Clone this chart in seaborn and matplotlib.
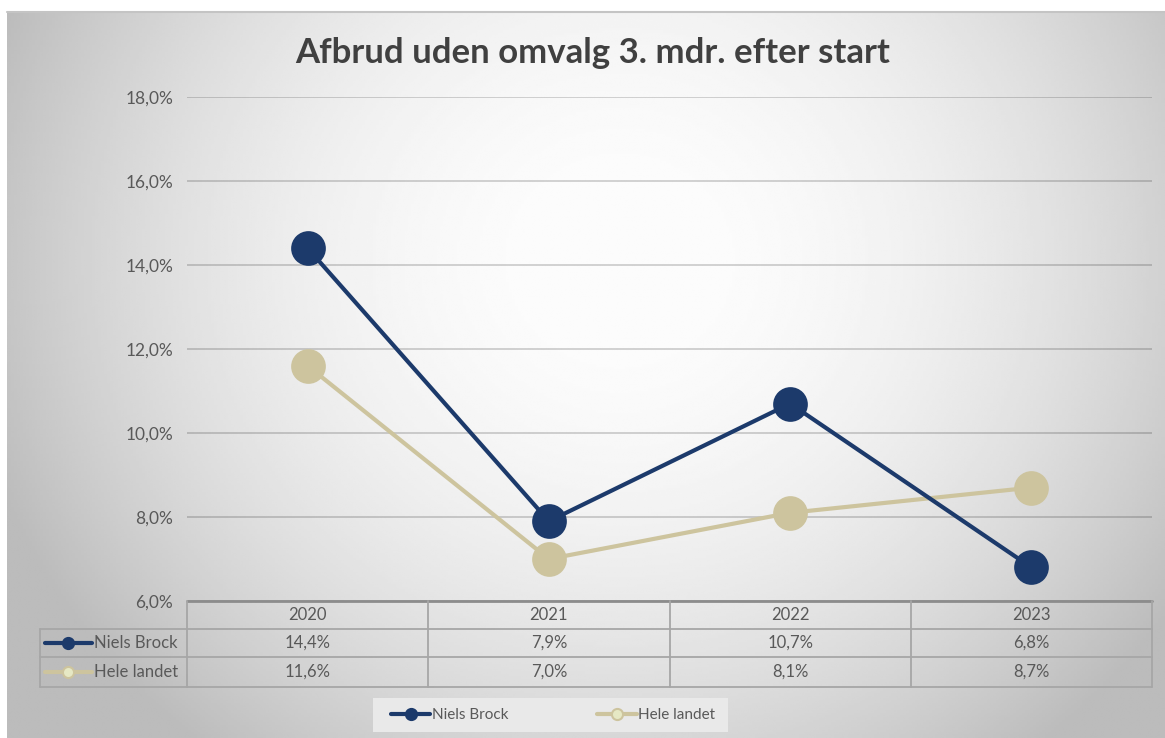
import matplotlib

matplotlib.use("Agg")

import matplotlib.pyplot as plt
import matplotlib.transforms as mtransforms
import numpy as np
import pandas as pd
import seaborn as sns
from matplotlib.lines import Line2D
from matplotlib.patches import Rectangle

TITLE = "Afbrud uden omvalg 3. mdr. efter start"
YEARS = ["2020", "2021", "2022", "2023"]
SERIES = ["Niels Brock", "Hele landet"]
NIELS_BROCK = [14.4, 7.9, 10.7, 6.8]
HELE_LANDET = [11.6, 7.0, 8.1, 8.7]
Y_TICKS = [6, 8, 10, 12, 14, 16, 18]

NAVY = "#1c3a6b"
TAN = "#cdc49e"
TAN_FILL = "#e6e8c4"
TEXT = "#595959"
W, H = 1165, 738


def pct(v: float) -> str:
    return f"{v:.1f}%".replace(".", ",")


df = pd.DataFrame(
    {
        "year": YEARS * 2,
        "series": [SERIES[0]] * len(YEARS) + [SERIES[1]] * len(YEARS),
        "value": NIELS_BROCK + HELE_LANDET,
    }
)

sns.set_theme(style="white")
plt.rcParams["font.family"] = ["Lato", "DejaVu Sans"]

fig = plt.figure(figsize=(W / 100, H / 100), dpi=100)
fig.patch.set_facecolor("white")

# radial grey gradient behind the chart
bg = fig.add_axes([7 / W, 0, (W - 7) / W, (H - 12) / H])
gx, gy = np.meshgrid(np.linspace(7, W, 400), np.linspace(12, H, 300))
d2 = ((gx - 620) / 640) ** 2 + ((gy - 260) / 600) ** 2
shade = np.clip(253 - 60 * d2, 188, 252) / 255
bg.imshow(shade, cmap="gray", vmin=0, vmax=1, aspect="auto", interpolation="bilinear")
bg.set_axis_off()
fig.add_artist(Line2D([7 / W, 1], [(H - 12) / H] * 2, color="#c4c4c4", lw=1.5))

ax = fig.add_axes([187 / W, (H - 601) / H, 965 / W, 504 / H])
ax.patch.set_alpha(0)
sns.lineplot(
    data=df,
    x="year",
    y="value",
    hue="series",
    hue_order=[SERIES[1], SERIES[0]],
    palette={SERIES[0]: NAVY, SERIES[1]: TAN},
    marker="o",
    markersize=25,
    markeredgewidth=0,
    linewidth=3,
    sort=False,
    legend=False,
    ax=ax,
)
ax.set_xlim(-0.5, len(YEARS) - 0.5)
ax.set_ylim(Y_TICKS[0], Y_TICKS[-1])
ax.set_yticks(Y_TICKS)
ax.set_yticklabels([pct(t) for t in Y_TICKS], color=TEXT, fontsize=12.5)
ax.tick_params(axis="y", length=0, pad=10)
ax.tick_params(axis="x", length=0, labelbottom=False)
ax.set_xlabel("")
ax.set_ylabel("")
ax.yaxis.grid(True, color="#000000", alpha=0.18, lw=1.3)
ax.set_axisbelow(True)
for s in ax.spines.values():
    s.set_visible(False)

# data table under the plot
tr = mtransforms.blended_transform_factory(ax.transData, ax.transAxes)
rows_y = [0, -28 / 504, -56 / 504, -86 / 504]
left = -0.5 - 147 / 241.25
right = len(YEARS) - 0.5
grid_kw = dict(transform=tr, clip_on=False, color="#a6a6a6", lw=1.3)
ax.plot([-0.5, right], [0, 0], transform=tr, clip_on=False, color="#8c8c8c", lw=2)
for y in rows_y[1:]:
    ax.plot([left, right], [y, y], **grid_kw)
for i in range(len(YEARS) + 1):
    ax.plot([i - 0.5, i - 0.5], [rows_y[0], rows_y[-1]], **grid_kw)
ax.plot([left, left], [rows_y[1], rows_y[-1]], **grid_kw)

cell_kw = dict(transform=tr, ha="center", va="center", color=TEXT, fontsize=12)
for i, year in enumerate(YEARS):
    ax.text(i, (rows_y[0] + rows_y[1]) / 2, year, **cell_kw)
    ax.text(i, (rows_y[1] + rows_y[2]) / 2, pct(NIELS_BROCK[i]), **cell_kw)
    ax.text(i, (rows_y[2] + rows_y[3]) / 2, pct(HELE_LANDET[i]), **cell_kw)

handle_styles = [
    dict(color=NAVY, marker="o", mfc=NAVY, mec=NAVY),
    dict(color=TAN, marker="o", mfc=TAN_FILL, mec=TAN),
]
for k, name in enumerate(SERIES):
    yc = (rows_y[k + 1] + rows_y[k + 2]) / 2
    ax.plot([left + 0.02, left + 0.215], [yc, yc], transform=tr, clip_on=False,
            color=handle_styles[k]["color"], lw=3)
    ax.plot([left + 0.117], [yc], transform=tr, clip_on=False, ls="none", ms=8,
            marker="o", mfc=handle_styles[k]["mfc"], mec=handle_styles[k]["mec"], mew=1.5)
    ax.text(left + 0.222, yc, name, transform=tr, ha="left", va="center", color=TEXT, fontsize=12)

# legend box (lighter panel) and entries
fig.add_artist(Rectangle((373 / W, (H - 732) / H), 355 / W, 34 / H,
                         transform=fig.transFigure, facecolor="#e9e9e9", edgecolor="none"))
handles = [Line2D([], [], lw=3, ms=8, mew=1.5, **st) for st in handle_styles]
leg = fig.legend(
    handles,
    SERIES,
    loc="center",
    bbox_to_anchor=(553 / W, (H - 715) / H),
    ncol=2,
    frameon=False,
    fontsize=11,
    handlelength=2.6,
    handletextpad=0.1,
    columnspacing=5.8,
)
for t in leg.get_texts():
    t.set_color(TEXT)

fig.text(593 / W, (H - 53) / H, TITLE, ha="center", va="center",
         fontsize=25, fontweight="bold", color="#404040")

fig.savefig("out.png", dpi=100)
